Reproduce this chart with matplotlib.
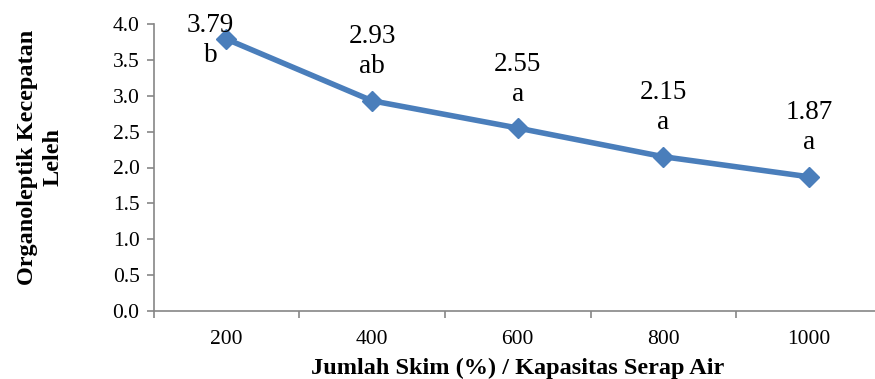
import matplotlib.pyplot as plt

# Data
categories = ['200', '400', '600', '800', '1000']
values = [3.79, 2.93, 2.55, 2.15, 1.87]
letters = ['b', 'ab', 'a', 'a', 'a']
y_ticks = [0.0, 0.5, 1.0, 1.5, 2.0, 2.5, 3.0, 3.5, 4.0]

# Label offsets in points (first one was nudged to fit under the top)
value_offsets = [(-11.5, 10), (0, 46), (0, 46), (0, 46), (0, 46)]
letter_offsets = [(-11.5, -11.5), (0, 24.5), (0, 24.5), (0, 24.5), (0, 24.5)]

LINE_COLOR = '#4A7EBB'
AXIS_COLOR = '#868686'

plt.rcParams['font.family'] = ['Liberation Serif', 'DejaVu Serif']

fig = plt.figure(figsize=(8.75, 3.79), dpi=100)
ax = fig.add_axes([153.5 / 875, 68 / 379, 728.5 / 875, 287 / 379])

x = list(range(len(categories)))
ax.plot(x, values, color=LINE_COLOR, linewidth=4, marker='D', markersize=10,
        markeredgecolor=LINE_COLOR, markerfacecolor=LINE_COLOR, clip_on=False)

for i, (v, lt) in enumerate(zip(values, letters)):
    ax.annotate(f'{v:.2f}', (i, v), xytext=value_offsets[i], textcoords='offset points',
                ha='center', va='center', fontsize=19.5)
    ax.annotate(lt, (i, v), xytext=letter_offsets[i], textcoords='offset points',
                ha='center', va='center', fontsize=19.5)

ax.set_xlim(-0.5, len(categories) - 0.5)
ax.set_ylim(0, 4.0)
ax.set_yticks(y_ticks)
ax.set_yticklabels([f'{t:.1f}' for t in y_ticks])
ax.set_xticks(x)
ax.set_xticklabels(categories)
ax.set_xticks([i - 0.5 for i in range(len(categories) + 1)], minor=True)

ax.tick_params(axis='x', which='major', length=0, pad=14, labelsize=15.5)
ax.tick_params(axis='x', which='minor', length=5, direction='out', color=AXIS_COLOR, width=1.2)
ax.tick_params(axis='y', length=5, direction='out', color=AXIS_COLOR, width=1.2, pad=5, labelsize=15.5)

for side in ['top', 'right']:
    ax.spines[side].set_visible(False)
for side in ['left', 'bottom']:
    ax.spines[side].set_color(AXIS_COLOR)
    ax.spines[side].set_linewidth(1.2)

ax.set_xlabel('Jumlah Skim (%) / Kapasitas Serap Air', fontsize=17.5, fontweight='bold', labelpad=6)
ax.set_ylabel('Organoleptik Kecepatan\nLeleh', fontsize=17.5, fontweight='bold',
              linespacing=1.3)
ax.yaxis.set_label_coords(-0.123, 0.535)

fig.savefig('out.png', dpi=100)
